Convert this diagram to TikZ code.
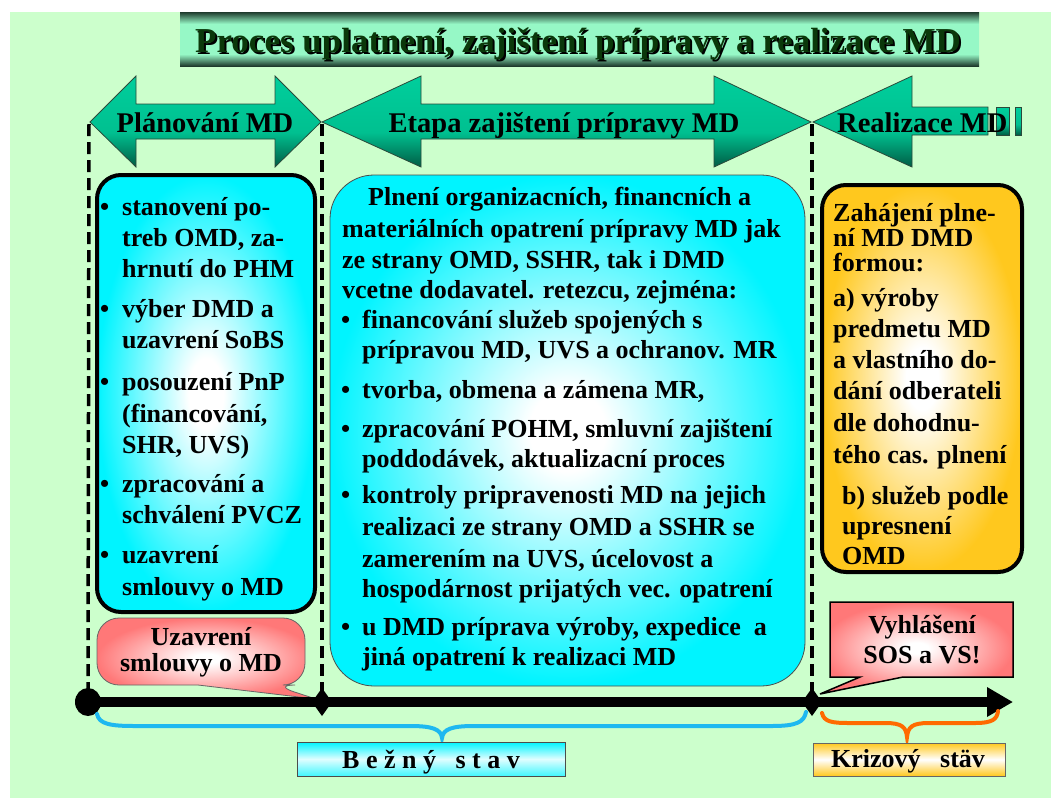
\documentclass[tikz,border=0pt]{standalone}
\usepackage{fontspec}
\setmainfont{Liberation Serif}
\usetikzlibrary{arrows.meta}

\definecolor{bggreen}{HTML}{CCFFCC}
\definecolor{tdark}{HTML}{1E3A2C}
\definecolor{tmint}{HTML}{96F8C6}
\definecolor{ttext}{HTML}{0A380A}
\definecolor{arrdark}{HTML}{005C44}
\definecolor{arrmid}{HTML}{00C090}
\definecolor{arrtop}{HTML}{00CE9C}
\definecolor{arredge}{HTML}{2A4A3A}
\definecolor{cyanA}{HTML}{00F4FF}
\definecolor{goldA}{HTML}{FFC81E}
\definecolor{pinkA}{HTML}{FF7878}
\definecolor{bluebr}{HTML}{1EB8F0}
\definecolor{orangebr}{HTML}{FF6A00}

\pgfdeclareverticalshading{titleshade}{100bp}{color(0bp)=(tdark); color(25bp)=(tdark); color(36bp)=(tmint); color(64bp)=(tmint); color(75bp)=(tdark); color(100bp)=(tdark)}
\pgfdeclareverticalshading{arrowshade}{100bp}{color(0bp)=(arrdark); color(25bp)=(arrdark); color(44bp)=(arrmid); color(75bp)=(arrtop); color(100bp)=(arrtop)}
\pgfdeclareradialshading{cyanglow}{\pgfpoint{0bp}{0bp}}{color(0bp)=(white); color(4bp)=(white); color(25bp)=(cyanA); color(50bp)=(cyanA)}
\pgfdeclareradialshading{goldglow}{\pgfpoint{0bp}{0bp}}{color(0bp)=(white); color(4bp)=(white); color(25bp)=(goldA); color(50bp)=(goldA)}
\pgfdeclareradialshading{pinkglow}{\pgfpoint{0bp}{0bp}}{color(0bp)=(white); color(3bp)=(white); color(25bp)=(pinkA); color(50bp)=(pinkA)}

\tikzset{
  t26/.style={font=\fontsize{26}{31}\selectfont\bfseries, inner sep=0pt, anchor=base west},
  tc26/.style={font=\fontsize{26}{31}\selectfont\bfseries, inner sep=0pt, anchor=base},
  arrtxt/.style={font=\fontsize{28.5}{32}\selectfont\bfseries, inner sep=0pt},
  bigarrow/.style={shading=arrowshade, draw=arredge, line width=0.8pt},
  phase/.style={dash pattern=on 12pt off 6pt, line width=3.5pt},
  bluebrace/.style={draw=bluebr, line width=4pt, line cap=round},
  orangebrace/.style={draw=orangebr, line width=4pt, line cap=round},
}

\begin{document}
\begin{tikzpicture}[x=1pt, y=-1pt]
\useasboundingbox (0,0) rectangle (1051,798);
\fill[white] (0,0) rectangle (1051,798);
\fill[bggreen] (10,12) rectangle (1051,798);

% title
\shade[shading=titleshade] (180,12) rectangle (979,66);
\node[font=\fontsize{35}{40}\selectfont\bfseries, inner sep=0pt, anchor=base, text=black] (titleshadow) at (580,54) {Proces uplatnení, zajištení prípravy a realizace MD};
\node[font=\fontsize{35}{40}\selectfont\bfseries, inner sep=0pt, anchor=base, text=ttext] (title) at (578,52) {Proces uplatnení, zajištení prípravy a realizace MD};

% phase arrows
\path[bigarrow] (90,122) -- (136,76) -- (136,104) -- (275,104) -- (275,76) -- (321,122) -- (275,167) -- (275,139) -- (136,139) -- (136,167) -- cycle;
\path[bigarrow] (322,122) -- (421,76) -- (421,104) -- (714,104) -- (714,76) -- (811,122) -- (714,167) -- (714,139) -- (421,139) -- (421,167) -- cycle;
\path[bigarrow] (813,122) -- (912,76) -- (912,107) -- (988,107) -- (988,135) -- (912,135) -- (912,167) -- cycle;
\path[bigarrow] (996,107) rectangle (1009,135);
\path[bigarrow] (1015,107) rectangle (1021,135);
\node[arrtxt, anchor=base] (plan) at (205,132) {Plánování MD};
\node[arrtxt, anchor=base] (etapa) at (564,132) {Etapa zajištení prípravy MD};
\node[arrtxt, anchor=base west] (real) at (837,132) {Realizace MD};

% timeline coordinates
\coordinate (pa) at (89,124);
\coordinate (pb) at (322,124);
\coordinate (pc) at (812,124);
\coordinate (t0) at (88,702);
\coordinate (t1) at (322,702);
\coordinate (t2) at (812,702);
\coordinate (tend) at (1013,702);

% dashed phase borders
\draw[phase] (pa) -- (t0);
\draw[phase] (pb) -- (t1);
\draw[phase] (pc) -- (t2);

% left box
\shade[shading=cyanglow, rounded corners=24pt] (97,175) rectangle (315,612);
\draw[line width=4pt, rounded corners=24pt] (97,175) rectangle (315,612);
\node[t26] (lb1) at (100,215) {•};
\node[t26] (l1) at (122,215) {stanovení po-};
\node[t26] (l2) at (122,246) {treb OMD, za-};
\node[t26] (l3) at (122,277) {hrnutí do PHM};
\node[t26] (lb2) at (100,317) {•};
\node[t26] (l4) at (122,317) {výber DMD a};
\node[t26] (l5) at (122,348) {uzavrení SoBS};
\node[t26] (lb3) at (100,390) {•};
\node[t26] (l6) at (122,390) {posouzení PnP};
\node[t26] (l7) at (122,422) {(financování,};
\node[t26] (l8) at (122,453) {SHR, UVS)};
\node[t26] (lb4) at (100,492) {•};
\node[t26] (l9) at (122,492) {zpracování a};
\node[t26] (l10) at (122,523) {schválení PVCZ};
\node[t26] (lb5) at (100,563) {•};
\node[t26] (l11) at (122,563) {uzavrení};
\node[t26] (l12) at (122,595) {smlouvy o MD};

% middle box
\shade[shading=cyanglow, rounded corners=44pt] (330,175) rectangle (805,686);
\draw[draw=black!70, line width=0.8pt, rounded corners=44pt] (330,175) rectangle (805,686);
\node[t26] (m1) at (368,205) {Plnení organizacních, financních a};
\node[t26] (m2) at (342,237) {materiálních opatrení prípravy MD jak};
\node[t26] (m3) at (342,268) {ze strany OMD, SSHR, tak i DMD};
\node[t26] (m4) at (342,298) {vcetne dodavatel. retezcu, zejména:};
\node[t26] (mb1) at (341,328) {•};
\node[t26] (m5) at (362,328) {financování služeb spojených s};
\node[t26] (m6) at (362,358) {prípravou MD, UVS a ochranov. MR};
\node[t26] (mb2) at (341,398) {•};
\node[t26] (m7) at (362,398) {tvorba, obmena a zámena MR,};
\node[t26] (mb3) at (341,437) {•};
\node[t26] (m8) at (362,437) {zpracování POHM, smluvní zajištení};
\node[t26] (m9) at (362,467) {poddodávek, aktualizacní proces};
\node[t26] (mb4) at (341,503) {•};
\node[t26] (m10) at (362,503) {kontroly pripravenosti MD na jejich};
\node[t26] (m11) at (362,535) {realizaci ze strany OMD a SSHR se};
\node[t26] (m12) at (362,567) {zamerením na UVS, úcelovost a};
\node[t26] (m13) at (362,597) {hospodárnost prijatých vec. opatrení};
\node[t26] (mb5) at (341,635) {•};
\node[t26] (m14) at (362,635) {u DMD príprava výroby, expedice\ \ a};
\node[t26] (m15) at (362,665) {jiná opatrení k realizaci MD};

% right box
\shade[shading=goldglow, rounded corners=24pt] (822,185) rectangle (1022,572);
\draw[line width=4pt, rounded corners=24pt] (822,185) rectangle (1022,572);
\node[t26] (r1) at (833,221) {Zahájení plne-};
\node[t26] (r2) at (833,246) {ní MD DMD};
\node[t26] (r3) at (833,271) {formou:};
\node[t26] (r4) at (833,306) {a) výroby};
\node[t26] (r5) at (833,337) {predmetu MD};
\node[t26] (r6) at (833,368) {a vlastního do-};
\node[t26] (r7) at (833,399) {dání odberateli};
\node[t26] (r8) at (833,431) {dle dohodnu-};
\node[t26] (r9) at (833,463) {tého cas. plnení};
\node[t26] (r10) at (842,504) {b) služeb podle};
\node[t26] (r11) at (842,534) {upresnení};
\node[t26] (r12) at (842,564) {OMD};

% callout: Uzavreni smlouvy
\shade[shading=pinkglow, rounded corners=22pt] (200,618) -- (305,618) -- (305,685) -- (273,685) [sharp corners] -- (316,699) -- (198,685) [rounded corners=22pt] -- (97,685) -- (97,618) -- cycle;
\draw[draw=black!60, line width=0.8pt, rounded corners=22pt] (200,618) -- (305,618) -- (305,685) -- (273,685) [sharp corners] -- (316,699) -- (198,685) [rounded corners=22pt] -- (97,685) -- (97,618) -- cycle;
\node[tc26] (c1a) at (201,645) {Uzavrení};
\node[tc26] (c1b) at (201,671) {smlouvy o MD};

% callout: Vyhlaseni
\shade[shading=pinkglow] (830,602) -- (1013,602) -- (1013,677) -- (903,677) -- (820,694) -- (860,677) -- (830,677) -- cycle;
\draw[line width=1.5pt, line join=miter] (830,602) -- (1013,602) -- (1013,677) -- (903,677) -- (820,694) -- (860,677) -- (830,677) -- cycle;
\node[tc26] (c2a) at (922,633) {Vyhlášení};
\node[tc26] (c2b) at (922,663) {SOS a VS!};

% timeline
\draw[line width=10pt, -{Triangle[length=26pt, width=28pt]}] (t0) -- (tend);
\fill (t0) ellipse [x radius=13, y radius=14];
\fill (t1) ++(-10,0) -- ++(10,-14) -- ++(10,14) -- ++(-10,14) -- cycle;
\fill (t2) ++(-10,0) -- ++(10,-14) -- ++(10,14) -- ++(-10,14) -- cycle;

% braces
\draw[bluebrace] (97,714) .. controls (99,724) and (110,726) .. (135,726) -- (410,726) .. controls (432,726) and (441,729) .. (442,738) .. controls (443,729) and (452,726) .. (474,726) -- (772,726) .. controls (797,726) and (804,722) .. (806,712);
\draw[orangebrace] (822,713) .. controls (824,722) and (832,723) .. (850,723) -- (885,723) .. controls (902,723) and (906,727) .. (907,737) .. controls (908,727) and (912,723) .. (929,723) -- (975,723) .. controls (993,723) and (997,719) .. (998,711);

% state labels
\node[draw=black!70, line width=0.8pt, top color=cyanA, bottom color=cyanA!75, middle color=cyanA!12, minimum width=268pt, minimum height=34pt, inner sep=0pt] (bezny) at (431,759) {};
\node[tc26] (beznyt) at (431,768) {B e ž n ý\ \ \ s t a v};
\node[draw=black!60, line width=0.8pt, top color=goldA, bottom color=goldA, middle color=white, minimum width=192pt, minimum height=33pt, inner sep=0pt] (krize) at (909,759.5) {};
\node[tc26] (krizet) at (908,767) {Krizový\ \ \ stäv};
\end{tikzpicture}
\end{document}
